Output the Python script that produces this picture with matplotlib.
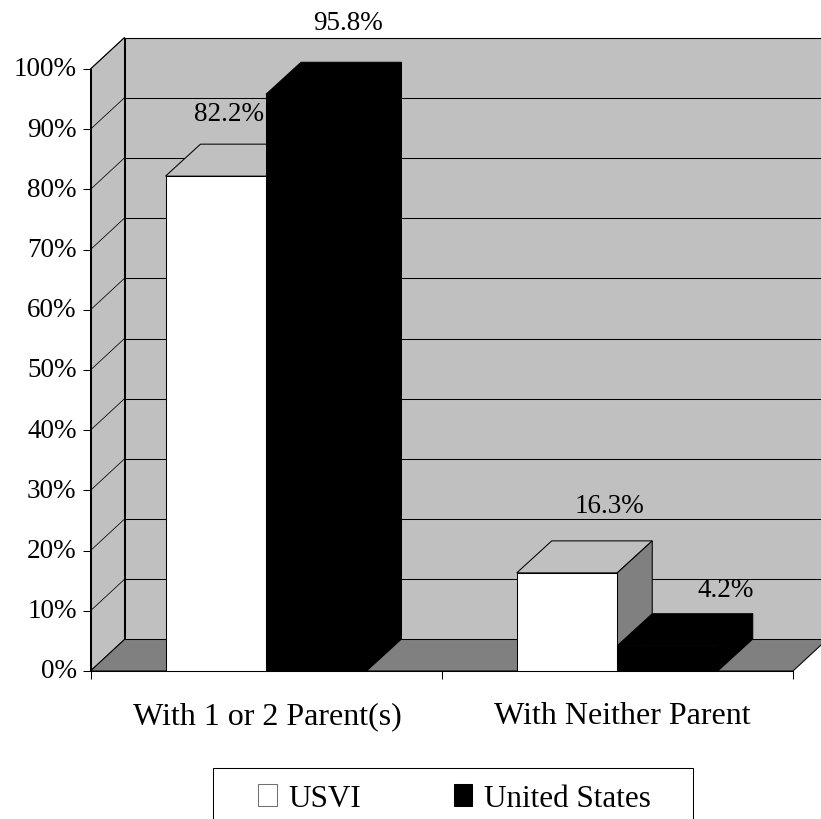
import matplotlib
matplotlib.use("Agg")
import matplotlib.pyplot as plt
from matplotlib.patches import Polygon, Rectangle, Patch
from matplotlib.ticker import FuncFormatter
from matplotlib.transforms import ScaledTranslation

# ---- data ----
categories = ["With 1 or 2 Parent(s)", "With Neither Parent"]
series_names = ["USVI", "United States"]
usvi_values = [82.2, 16.3]
us_values = [95.8, 4.2]
y_ticks = [0, 10, 20, 30, 40, 50, 60, 70, 80, 90, 100]

# ---- layout (pixels of the 821x820 canvas) ----
W, H = 821, 820
AX_L, AX_R, AX_T, AX_B = 90.5, 793, 70, 672
LW = 0.75
FS = 19.5
FS_LARGE = 23
FS_LEGEND = 22.4
plt.rcParams["font.family"] = ["Liberation Serif", "DejaVu Serif"]

fig = plt.figure(figsize=(W / 100, H / 100), dpi=100, facecolor="white")
ax = fig.add_axes([AX_L / W, 1 - AX_B / H, (AX_R - AX_L) / W, (AX_B - AX_T) / H])
ax.set_xlim(0, 2)
ax.set_ylim(0, 100)
ax.patch.set_visible(False)

px_x = 2 / (AX_R - AX_L)       # data x per pixel
px_y = 100 / (AX_B - AX_T)     # data y per pixel
WALL_DX, WALL_DY = 34 * px_x, 31.5 * px_y
BAR_DX, BAR_DY = 35 * px_x, 32 * px_y
GAP = 75 * px_x
BAR_W = 100.5 * px_x
WALL = "#c0c0c0"
FLOOR = "#808080"


def poly(pts, face, edge="black", z=1, lw=LW):
    ax.add_patch(Polygon(pts, closed=True, facecolor=face, edgecolor=edge,
                         linewidth=lw, zorder=z, clip_on=False, joinstyle="miter"))


def line(xs, ys, z=1.2, lw=LW):
    ax.plot(xs, ys, color="black", lw=lw, zorder=z, clip_on=False, solid_capstyle="butt")


# back wall, side wall, floor
poly([(WALL_DX, WALL_DY), (2 + WALL_DX, WALL_DY), (2 + WALL_DX, 100 + WALL_DY), (WALL_DX, 100 + WALL_DY)], WALL)
poly([(0, 0), (WALL_DX, WALL_DY), (WALL_DX, 100 + WALL_DY), (0, 100)], WALL)
poly([(0, 0), (2, 0), (2 + WALL_DX, WALL_DY), (WALL_DX, WALL_DY)], FLOOR)

# gridlines on the wall, running on to the side wall
for v in y_ticks[1:]:
    line([WALL_DX, 2 + WALL_DX], [v + WALL_DY, v + WALL_DY])
    line([0, WALL_DX], [v, v + WALL_DY], lw=0.55)


def bar(x0, v, front):
    x1 = x0 + BAR_W
    dark = front == "black"
    side = "black" if dark else FLOOR
    top = "black" if dark else WALL
    edge = "black" if dark else "black"
    poly([(x0, v), (x1, v), (x1 + BAR_DX, v + BAR_DY), (x0 + BAR_DX, v + BAR_DY)], top, edge=edge, z=3)
    poly([(x1, 0), (x1 + BAR_DX, BAR_DY), (x1 + BAR_DX, v + BAR_DY), (x1, v)], side, edge=edge, z=3)
    poly([(x0, 0), (x1, 0), (x1, v), (x0, v)], front, z=3)


for i in range(len(categories)):
    bar(i + GAP, usvi_values[i], "white")
    bar(i + GAP + BAR_W, us_values[i], "black")

# value labels: offset in pixels from the centre of the bar's front top edge
label_offsets = {0: [(13, 63), (32, 72)], 1: [(42, 67), (58, 56)]}
for i in range(len(categories)):
    for j, vals in enumerate([usvi_values, us_values]):
        dx, dy = label_offsets[i][j]
        ax.annotate(f"{vals[i]:.1f}%", xy=(i + GAP + BAR_W * (j + 0.5), vals[i]),
                    xytext=(dx * 0.72, dy * 0.72), textcoords="offset points",
                    ha="center", va="center", fontsize=FS, color="black",
                    zorder=6, annotation_clip=False)

# axes
for s in ("top", "right"):
    ax.spines[s].set_visible(False)
for s in ("left", "bottom"):
    ax.spines[s].set_linewidth(LW)
    ax.spines[s].set_zorder(4)
ax.set_yticks(y_ticks)
ax.yaxis.set_major_formatter(FuncFormatter(lambda v, _: f"{v:.0f}%"))
ax.tick_params(axis="y", length=5.8, width=LW, pad=4.2, labelsize=FS)
up = ScaledTranslation(0, 3 / 100, fig.dpi_scale_trans)
for t in ax.get_yticklabels():
    t.set_transform(t.get_transform() + up)
ax.set_xticks([0, 1, 2])
ax.set_xticklabels([])
ax.tick_params(axis="x", which="major", length=5.8, width=LW)
ax.set_xticks([0.5, 1.5], minor=True)
ax.set_xticklabels(categories, minor=True, fontsize=FS_LARGE)
ax.tick_params(axis="x", which="minor", length=0, pad=21.5)
minor_labels = ax.get_xticklabels(minor=True)
minor_labels[0].set_transform(minor_labels[0].get_transform() + ScaledTranslation(1.5 / 100, 0, fig.dpi_scale_trans))
minor_labels[1].set_transform(minor_labels[1].get_transform() + ScaledTranslation(4.5 / 100, 0, fig.dpi_scale_trans))

# legend frame + legend
fig.add_artist(Rectangle((212.5 / W, 1 - 826 / H), 480 / W, 57 / H, transform=fig.transFigure,
                         facecolor="white", edgecolor="black", linewidth=LW, zorder=5))
handles = [Patch(facecolor="white", edgecolor="#707070", linewidth=LW, label=series_names[0]),
           Patch(facecolor="black", edgecolor="black", linewidth=LW, label=series_names[1])]
leg = fig.legend(handles=handles, ncol=2, frameon=False, fontsize=FS_LEGEND,
                 loc="center", bbox_to_anchor=(454.5 / W, 1 - 799.5 / H),
                 handlelength=0.59, handleheight=0.7, handletextpad=0.38,
                 columnspacing=2.98, borderpad=0, borderaxespad=0)
leg.set_zorder(6)

fig.savefig("out.png", dpi=100)
